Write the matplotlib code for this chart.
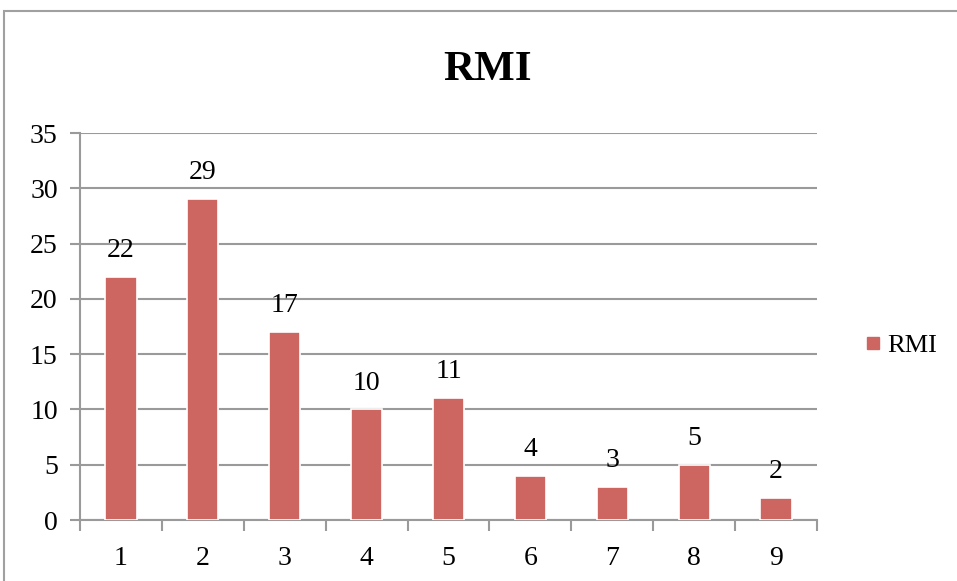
import matplotlib
matplotlib.use("Agg")
import matplotlib.pyplot as plt
from matplotlib.patches import Rectangle
from matplotlib.lines import Line2D

categories = ["1", "2", "3", "4", "5", "6", "7", "8", "9"]
values = [22, 29, 17, 10, 11, 4, 3, 5, 2]
series_name = "RMI"
yticks = [0, 5, 10, 15, 20, 25, 30, 35]

plt.rcParams['font.family'] = ['Liberation Serif', 'DejaVu Serif']

W, H = 957, 581
fig = plt.figure(figsize=(W / 100, H / 100), dpi=100)
fig.patch.set_facecolor('white')

# outer chart border
fig.add_artist(Rectangle((4 / W, -0.1), 1.2, 1 - 11 / H + 0.1, transform=fig.transFigure,
                         fill=False, edgecolor='#a0a0a0', linewidth=1.5))

ax = fig.add_axes([80 / W, 1 - 520 / H, (817 - 80) / W, (520 - 133) / H])
bar_color = '#cd6660'
grid_color = '#9a9a9a'
fs = 20

x = list(range(len(categories)))
bars = ax.bar(x, values, width=0.38, color=bar_color, edgecolor='white', linewidth=1.2, zorder=3)

for xi, v in zip(x, values):
    ax.annotate(str(v), (xi, v), xytext=(0, 10), textcoords='offset points',
                ha='center', va='bottom', fontsize=fs, color='black')

ax.set_xlim(-0.5, len(categories) - 0.5)
ax.set_ylim(0, 35)
ax.set_yticks(yticks)
ax.set_yticklabels([str(t) for t in yticks], fontsize=fs)
ax.set_xticks(x)
ax.set_xticklabels(categories, fontsize=fs)
ax.tick_params(axis='x', length=0, pad=19)
ax.set_xticks([i - 0.5 for i in range(len(categories) + 1)], minor=True)
ax.tick_params(axis='x', which='minor', length=8, width=1.5, color=grid_color)
ax.tick_params(axis='y', length=7, width=1.5, color=grid_color, pad=9)

ax.yaxis.grid(True, color=grid_color, linewidth=1.5, zorder=0)
ax.set_axisbelow(True)
for s in ['top', 'right']:
    ax.spines[s].set_visible(False)
for s in ['left', 'bottom']:
    ax.spines[s].set_color(grid_color)
    ax.spines[s].set_linewidth(1.5)

fig.text(488 / W, 1 - 70 / H, "RMI", ha='center', va='center', fontsize=31, fontweight='bold')

handle = Line2D([], [], marker='s', linestyle='none', markersize=9,
                markerfacecolor=bar_color, markeredgecolor=bar_color)
fig.legend([handle], [series_name], loc='center left', bbox_to_anchor=(862 / W, 1 - 345 / H),
           frameon=False, fontsize=19, handlelength=0.8, handletextpad=0.15, borderaxespad=0,
           borderpad=0)

fig.savefig("out.png", dpi=100)
